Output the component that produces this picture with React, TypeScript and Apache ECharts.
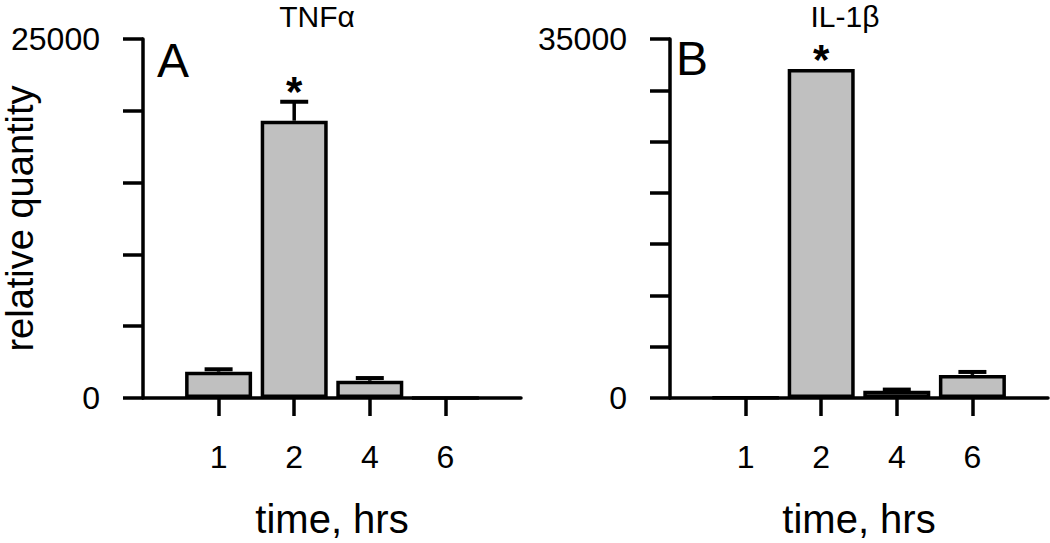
import React, { useEffect, useRef } from 'react';
import * as echarts from 'echarts';

const TIME_LABELS = ['1', '2', '4', '6'];
const TNF_VALUES = [1830, 19310, 1200, 0];
const TNF_ERRORS = [170, 1320, 190, 0];
const TNF_SIG = [false, true, false, false];
const IL1B_VALUES = [40, 32070, 700, 2250];
const IL1B_ERRORS = [0, 0, 120, 290];
const IL1B_SIG = [false, true, false, false];
const TNF_MAX = 25000;
const IL1B_MAX = 35000;
const TICK_STEP = 5000;
const TITLES = ['TNFα', 'IL-1β'];
const PANEL_LETTERS = ['A', 'B'];

const FONT = '"Liberation Sans", Arial, Helvetica, sans-serif';
const CATS = ['', ...TIME_LABELS, ' '];

export default function App() {
  const ref = useRef<HTMLDivElement>(null);
  useEffect(() => {
    document.body.style.margin = '0';
    const chart = echarts.init(ref.current!, undefined, { renderer: 'svg' });

    const grids = [
      { left: 143, top: 39, width: 378, height: 359 },
      { left: 670, top: 39, width: 378, height: 359 },
    ];
    const maxes = [TNF_MAX, IL1B_MAX];
    const values = [TNF_VALUES, IL1B_VALUES];
    const errors = [TNF_ERRORS, IL1B_ERRORS];
    const sigs = [TNF_SIG, IL1B_SIG];

    const xAxes = grids.map((_, i) => ({
      type: 'category',
      gridIndex: i,
      data: CATS,
      boundaryGap: false,
      axisLine: { lineStyle: { color: '#000', width: 3.5 } },
      axisTick: {
        show: true,
        inside: false,
        length: 18,
        interval: (idx: number) => idx >= 1 && idx <= TIME_LABELS.length,
        lineStyle: { color: '#000', width: 3.5 },
      },
      axisLabel: {
        interval: 0,
        margin: 43,
        fontSize: 32,
        fontFamily: FONT,
        color: '#000',
      },
      splitLine: { show: false },
      name: 'time, hrs',
      nameLocation: 'middle',
      nameGap: 101,
      nameMoveOverlap: false,
      nameTextStyle: { fontSize: 40, fontFamily: FONT, color: '#000' },
    }));

    const yAxes = grids.map((_, i) => ({
      type: 'value',
      gridIndex: i,
      min: 0,
      max: maxes[i],
      interval: TICK_STEP,
      axisLine: { show: true, lineStyle: { color: '#000', width: 3.5 } },
      axisTick: { show: true, inside: false, length: 20, lineStyle: { color: '#000', width: 3.5 } },
      axisLabel: {
        margin: 43,
        fontSize: 32,
        fontFamily: FONT,
        color: '#000',
        formatter: (v: number) => (v === 0 || v === maxes[i] ? String(v) : ''),
      },
      splitLine: { show: false },
      name: i === 0 ? 'relative quantity' : '',
      nameLocation: 'middle',
      nameGap: 104,
      nameMoveOverlap: false,
      nameTextStyle: { fontSize: 38, fontFamily: FONT, color: '#000' },
    }));

    const series: any[] = [];
    grids.forEach((_, i) => {
      series.push({
        type: 'bar',
        xAxisIndex: i,
        yAxisIndex: i,
        barWidth: 67,
        data: [null, ...values[i], null],
        itemStyle: { color: '#c0c0c0', borderColor: '#000', borderWidth: 3.5 },
        z: 3,
      });
      series.push({
        type: 'custom',
        xAxisIndex: i,
        yAxisIndex: i,
        z: 4,
        data: values[i].map((v, k) => [k + 1, v, errors[i][k], sigs[i][k] ? 1 : 0]),
        encode: { x: 0, y: 1 },
        renderItem: (params: any, api: any) => {
          const x = api.value(0);
          const v = api.value(1);
          const e = api.value(2);
          const s = api.value(3);
          const p0 = api.coord([x, v]);
          const p1 = api.coord([x, v + e]);
          const children: any[] = [];
          if (e > 0) {
            children.push({
              type: 'line',
              shape: { x1: p0[0], y1: p0[1], x2: p1[0], y2: p1[1] },
              style: { stroke: '#000', lineWidth: 3.5 },
            });
            children.push({
              type: 'line',
              shape: { x1: p1[0] - 14, y1: p1[1], x2: p1[0] + 14, y2: p1[1] },
              style: { stroke: '#000', lineWidth: 4 },
            });
          }
          if (s) {
            children.push({
              type: 'text',
              style: {
                text: '*',
                x: p1[0],
                y: p1[1] - 10,
                textAlign: 'center',
                textVerticalAlign: 'middle',
                align: 'center',
                verticalAlign: 'middle',
                font: `bold 42px ${FONT}`,
                fill: '#000',
              },
            });
          }
          return { type: 'group', children };
        },
      });
    });

    const txt = (text: string, x: number, y: number, size: number, align: string) => ({
      type: 'text',
      x,
      y,
      style: {
        text,
        font: `${size}px ${FONT}`,
        fill: '#000',
        textAlign: align,
        textVerticalAlign: 'middle',
        align,
        verticalAlign: 'middle',
      },
    });

    chart.setOption({
      animation: false,
      backgroundColor: '#fff',
      grid: grids.map((g) => ({ ...g, containLabel: false, outerBoundsMode: 'none' })),
      xAxis: xAxes,
      yAxis: yAxes,
      series,
      graphic: [
        txt(TITLES[0], 317, 16, 30, 'center'),
        txt(TITLES[1], 845, 16, 30, 'center'),
        txt(PANEL_LETTERS[0], 157, 60, 48, 'left'),
        txt(PANEL_LETTERS[1], 676, 58, 48, 'left'),
      ],
    });
    return () => chart.dispose();
  }, []);
  return <div ref={ref} style={{ width: 1050, height: 543 }} />;
}
